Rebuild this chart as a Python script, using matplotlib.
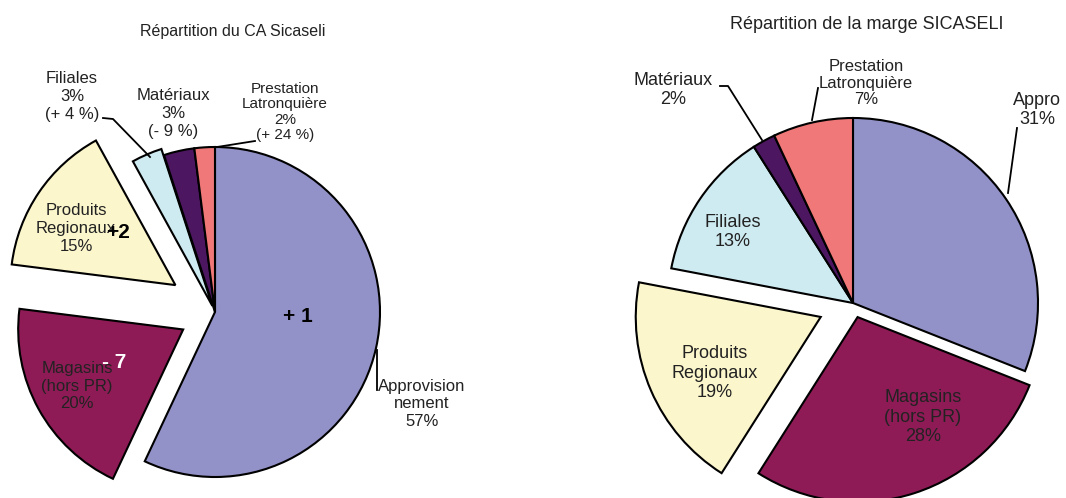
import matplotlib.pyplot as plt

plt.rcParams['font.family'] = ['Liberation Sans', 'DejaVu Sans']

# --- data ---
ca_labels = ['Approvision\nnement', 'Magasins\n(hors PR)', 'Produits\nRegionaux',
             'Filiales', 'Matériaux', 'Prestation\nLatronquière']
ca_values = [57, 20, 15, 3, 3, 2]
ca_evol = ['+ 1', '- 7', '+2', '(+ 4 %)', '(- 9 %)', '(+ 24 %)']

marge_labels = ['Appro', 'Magasins\n(hors PR)', 'Produits\nRegionaux',
                'Filiales', 'Matériaux', 'Prestation\nLatronquière']
marge_values = [31, 28, 19, 13, 2, 7]

colors = ['#9292C8', '#8E1B56', '#FBF6CC', '#CFEBF2', '#4C1660', '#F07878']

W, H = 1066, 498
fig = plt.figure(figsize=(W / 100, H / 100), dpi=100)
ax = fig.add_axes([0, 0, 1, 1])

wp = dict(edgecolor='black', linewidth=1.5)

# left pie: CA
R1 = 165
c1 = (215, H - 312)
ax.pie(ca_values, colors=colors, startangle=90, counterclock=False,
       radius=R1, center=c1, wedgeprops=wp,
       explode=[0, 0.22 * R1, 0.29 * R1, 0.04 * R1, 0, 0])

# right pie: marge
R2 = 185
c2 = (853, H - 303)
ax.pie(marge_values, colors=colors, startangle=90, counterclock=False,
       radius=R2, center=c2, wedgeprops=wp,
       explode=[0, 0.08 * R2, 0.19 * R2, 0, 0, 0])

ax.set_xlim(0, W)
ax.set_ylim(0, H)
ax.set_aspect('equal')
ax.axis('off')


def txt(x, y, s, size=12, color='#222222', ls=1.25, **kw):
    ax.text(x, H - y, s, ha='center', va='center', fontsize=size,
            linespacing=ls, color=color, **kw)


def line(xs, ys):
    ax.plot(xs, [H - v for v in ys], color='black', linewidth=1.3)


# left labels
txt(233, 31, 'Répartition du CA Sicaseli', size=11.5)
txt(72, 96, f'{ca_labels[3]}\n{ca_values[3]}%\n{ca_evol[3]}')
txt(173, 113, f'{ca_labels[4]}\n{ca_values[4]}%\n{ca_evol[4]}')
txt(285, 112, f'{ca_labels[5]}\n{ca_values[5]}%\n{ca_evol[5]}', size=11, ls=1.1)
txt(76, 228, f'{ca_labels[2]}\n{ca_values[2]}%')
txt(77, 386, f'{ca_labels[1]}\n{ca_values[1]}%')
txt(422, 404, f'{ca_labels[0]}\n{ca_values[0]}%')
txt(118, 232, ca_evol[2], size=15, fontweight='bold', color='black')
txt(114, 362, ca_evol[1], size=15, fontweight='bold', color='white')
txt(298, 317, ca_evol[0], size=15, fontweight='bold', color='black')
line([103, 113, 150], [118, 119, 157])
line([255, 217], [141, 147])
line([377, 377], [350, 390])

# right labels
txt(867, 24, 'Répartition de la marge SICASELI', size=13)
txt(673, 90, f'{marge_labels[4]}\n{marge_values[4]}%', size=13, ls=1.15)
txt(866, 83, f'{marge_labels[5]}\n{marge_values[5]}%', size=12, ls=1.1)
txt(1037, 110, f'{marge_labels[0]}\n{marge_values[0]}%', size=13, ls=1.15)
txt(733, 232, f'{marge_labels[3]}\n{marge_values[3]}%', size=13, ls=1.15)
txt(715, 373, f'{marge_labels[2]}\n{marge_values[2]}%', size=13, ls=1.2)
txt(923, 417, f'{marge_labels[1]}\n{marge_values[1]}%', size=13, ls=1.2)
line([720, 728, 762], [86, 86, 140])
line([818, 812], [88, 120])
line([1017, 1008], [128, 193])

fig.savefig('out.png', dpi=100)
